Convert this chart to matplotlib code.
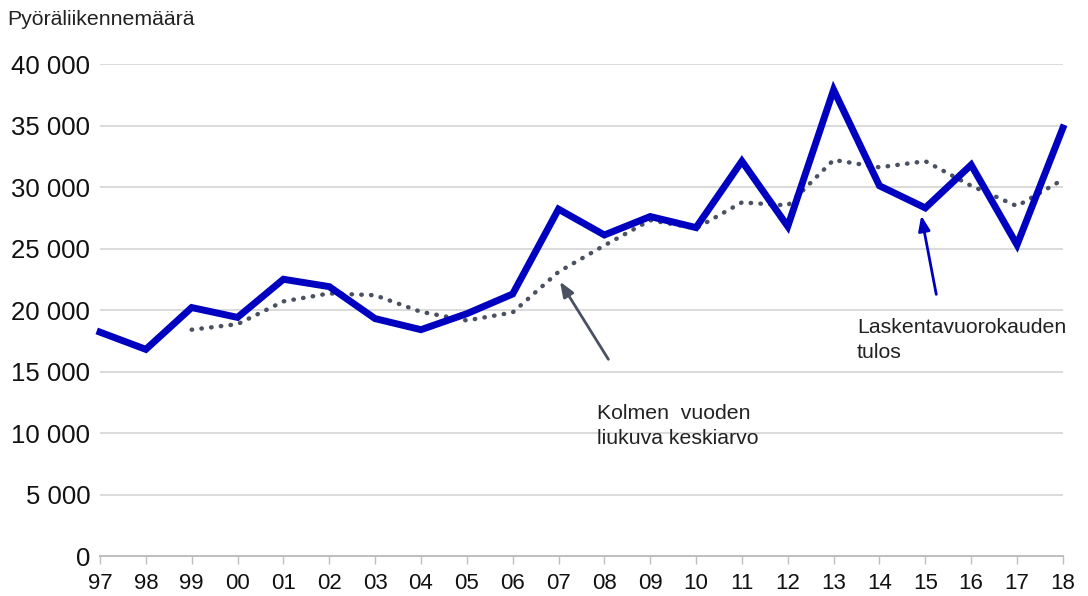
import matplotlib.pyplot as plt

years = ["97", "98", "99", "00", "01", "02", "03", "04", "05", "06", "07",
         "08", "09", "10", "11", "12", "13", "14", "15", "16", "17", "18"]
tulos = [18200, 16800, 20200, 19400, 22500, 21900, 19300, 18400, 19700, 21300, 28200,
         26100, 27600, 26700, 32100, 26800, 37900, 30100, 28300, 31800, 25300, 34800]
# kolmen vuoden liukuva keskiarvo, alkaa vuodesta 99
ka_years = years[2:]
keskiarvo = [18400, 18850, 20700, 21350, 21200, 19850, 19150, 19800, 23100, 25250,
             27300, 26650, 28750, 28500, 32200, 31600, 32100, 30100, 28450, 30600]

plt.rcParams['font.family'] = ['Liberation Sans', 'DejaVu Sans']

fig = plt.figure(figsize=(10.88, 5.96), dpi=100)
ax = fig.add_axes([0.0919, 0.0671, 0.885, 0.8255])

x = list(range(len(years)))
xk = [years.index(y) for y in ka_years]

ax.plot(xk, keskiarvo, color="#4a5160", linewidth=3.2, linestyle=(0, (0.1, 2.1)),
        dash_capstyle="round", clip_on=False, zorder=3)
ax.plot(x, tulos, color="#0000c0", linewidth=5, solid_joinstyle="miter",
        clip_on=False, zorder=4)

ax.set_xlim(0, len(years) - 1)
ax.set_ylim(0, 40000)
ax.set_yticks(range(0, 40001, 5000))
ax.set_yticklabels([f"{v:,}".replace(",", " ") for v in range(0, 40001, 5000)], fontsize=18.5)
ax.set_xticks(x)
ax.set_xticklabels(years, fontsize=16)
ax.tick_params(axis="y", length=0, pad=7, colors="#111111")
ax.tick_params(axis="x", length=6, width=1, color="#bfbfbf", pad=6, labelcolor="#111111")

ax.grid(axis="y", color="#d4d4d4", linewidth=1.2)
ax.set_axisbelow(True)
for s in ["top", "right", "left"]:
    ax.spines[s].set_visible(False)
ax.spines["bottom"].set_color("#bfbfbf")
ax.spines["bottom"].set_linewidth(1.5)

fig.text(0.007, 0.968, "Pyöräliikennemäärä", fontsize=15.3, color="#222222", va="center")

ax.annotate("", xy=(10.0, 22500), xytext=(11.12, 15800),
            arrowprops=dict(arrowstyle="-|>,head_length=0.9,head_width=0.35",
                            color="#4a5160", lw=2))
ax.text(10.84, 10570, "Kolmen  vuoden\nliukuva keskiarvo", fontsize=15.3,
        color="#222222", va="center", linespacing=1.35)

ax.annotate("", xy=(17.9, 27900), xytext=(18.25, 21050),
            arrowprops=dict(arrowstyle="-|>,head_length=0.9,head_width=0.35",
                            color="#0000c0", lw=2))
ax.text(16.51, 17560, "Laskentavuorokauden\ntulos", fontsize=15.3,
        color="#222222", va="center", linespacing=1.35)

fig.savefig("out.png", dpi=100)
